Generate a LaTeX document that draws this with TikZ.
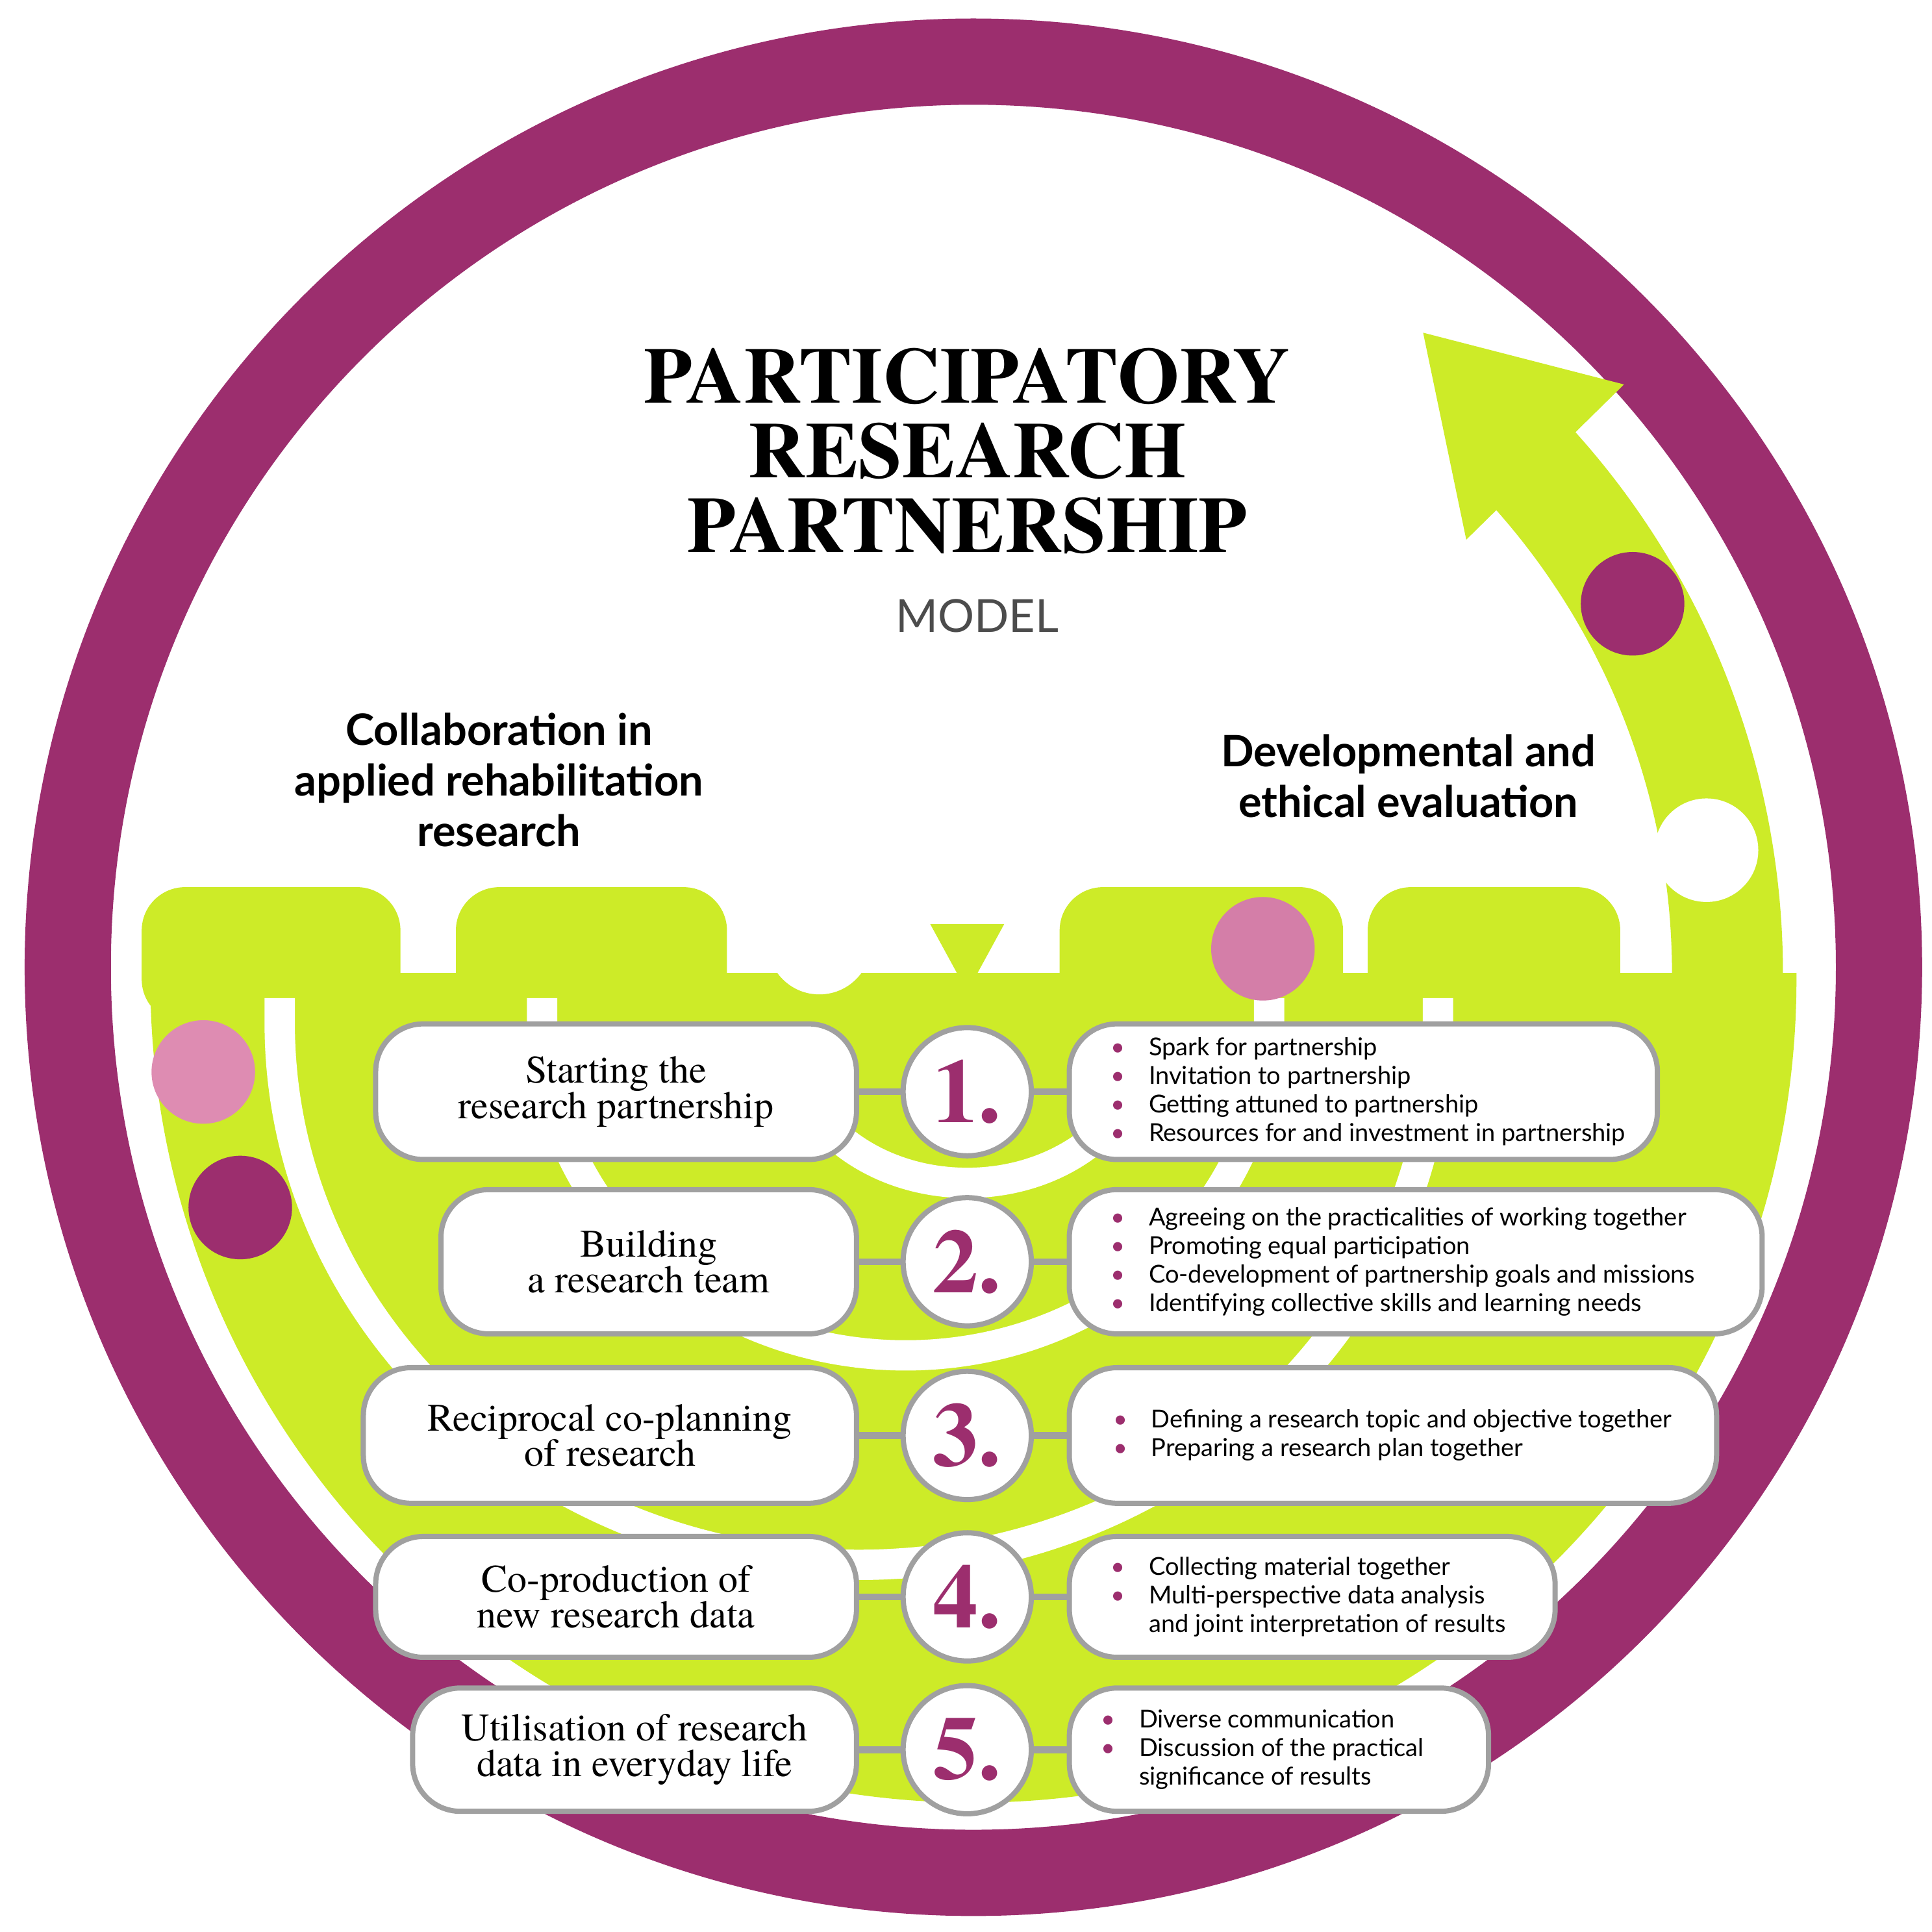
\documentclass[tikz,border=0pt]{standalone}
\usepackage{fontspec}
\usetikzlibrary{calc}
\setmainfont{TeX Gyre Termes}
\newfontfamily\sansf{Lato}
\definecolor{plum}{RGB}{156,46,110}
\definecolor{lime}{RGB}{205,235,40}
\definecolor{pinkd}{RGB}{222,140,178}
\definecolor{boxgray}{RGB}{160,160,160}
\newcommand\bul{\textcolor{plum}{\textbullet}\hspace{5.5pt}}
\newcommand\nob{\phantom{\textbullet}\hspace{5.5pt}}
\newcommand\rowitem[8]{%
 \node[lbox,minimum width=#3cm,minimum height=#5cm] (l#1) at ({695-#3*50},#2) {#6};
 \node[rbox,minimum width=#4cm,minimum height=#5cm] (r#1) at ({868+#4*50},#2) {};
 \node[num] (n#1) at (785,#2) {#1.};
 \draw[link] (l#1) -- (n#1); \draw[link] (n#1) -- (r#1);
 \node[btxt] (t#1) at ($(r#1.west)+(#7,0)$) {#8};}
\begin{document}
\begin{tikzpicture}[x=0.01cm,y=-0.01cm,
  lbox/.style={draw=boxgray,line width=1.2pt,rounded corners=11pt,fill=white,align=center,font=\fontsize{9}{8.2}\selectfont,inner sep=0pt},
  rbox/.style={draw=boxgray,line width=1.2pt,rounded corners=11pt,fill=white,inner sep=0pt},
  num/.style={circle,draw=boxgray,line width=1.2pt,fill=white,minimum size=1.04cm,inner sep=0pt,font=\fontsize{21}{21}\selectfont\bfseries,text=plum},
  link/.style={draw=boxgray,line width=1.6pt},
  btxt/.style={anchor=west,align=left,font=\sansf\fontsize{5.7}{6.6}\selectfont,inner sep=0pt},
  dot/.style={circle,minimum size=0.84cm,inner sep=0pt}]
\useasboundingbox (0,0) rectangle (1568,1568);
% ring
\fill[plum,even odd rule] (790,785) circle (770) (790,785) circle (700);
% green bowl
\begin{scope}
\clip (0,790) rectangle (1568,1568);
\fill[lime] (790,795) circle (668);
\end{scope}
\fill[lime,rounded corners=10pt] (115,720) rectangle (325,830);
\fill[lime,rounded corners=10pt] (370,720) rectangle (590,830);
\fill[lime,rounded corners=10pt] (860,720) rectangle (1090,830);
\fill[lime,rounded corners=10pt] (1110,720) rectangle (1315,830);
\fill[lime] (590,800) rectangle (860,830);
\fill[lime] (755,750) -- (815,750) -- (785,805) -- cycle;
% white arcs
\draw[white,line width=7pt] (227,810) -- (227,830) arc (180:0:470 and 440) -- (1167,810);
\draw[white,line width=7pt] (440,810) -- (440,830) arc (180:0:295 and 270) -- (1030,810);
\draw[white,line width=7pt] (640,840) arc (180:0:145 and 120);
% right arc arrow
\draw[lime,line width=0.9cm] (790,790) ++(12:612) arc (12:-46:612);
\fill[lime] (1155,270) -- (1318,312) -- (1190,438) -- cycle;
% dots
\node[dot,fill=pinkd] (d1) at (165,870) {};
\node[dot,fill=plum] (d2) at (195,980) {};
\node[dot,fill=white] (d3) at (665,765) {};
\node[dot,fill=pinkd!85!plum] (d4) at (1025,770) {};
\node[dot,fill=plum] (d5) at (1325,490) {};
\node[dot,fill=white] (d6) at (1385,690) {};
% title
\node[align=center,font=\fontsize{18.3}{17.2}\selectfont\bfseries] (title) at (785,366) {PARTICIPATORY\\RESEARCH\\PARTNERSHIP};
\node[font=\sansf\fontsize{10.5}{11}\selectfont,text=black!70] (model) at (793,500) {MODEL};
\node[align=center,font=\sansf\bfseries\fontsize{10}{11.7}\selectfont] (h1) at (405,633) {Collaboration in\\applied rehabilitation\\research};
\node[align=center,font=\sansf\bfseries\fontsize{10}{11.7}\selectfont] (h2) at (1143,630) {Developmental and\\ethical evaluation};
% rows
\rowitem{1}{886}{3.9}{4.77}{1.1}{Starting the\\research partnership}{35}{\bul Spark for partnership\\\bul Invitation to partnership\\\bul Getting attuned to partnership\\\bul Resources for and investment in partnership}
\rowitem{2}{1024}{3.37}{5.62}{1.17}{Building\\a research team}{35}{\bul Agreeing on the practicalities of working together\\\bul Promoting equal participation\\\bul Co-development of partnership goals and missions\\\bul Identifying collective skills and learning needs}
\rowitem{3}{1165}{4.0}{5.25}{1.1}{Reciprocal co-planning\\of research}{37}{\bul Defining a research topic and objective together\\\bul Preparing a research plan together}
\rowitem{4}{1296}{3.9}{3.94}{0.98}{Co-production of\\new research data}{35}{\bul Collecting material together\\\bul Multi-perspective data analysis\\\nob and joint interpretation of results}
\rowitem{5}{1420}{3.6}{3.4}{1.0}{Utilisation of research\\data in everyday life}{27}{\bul Diverse communication\\\bul Discussion of the practical\\\nob significance of results}
\end{tikzpicture}
\end{document}
